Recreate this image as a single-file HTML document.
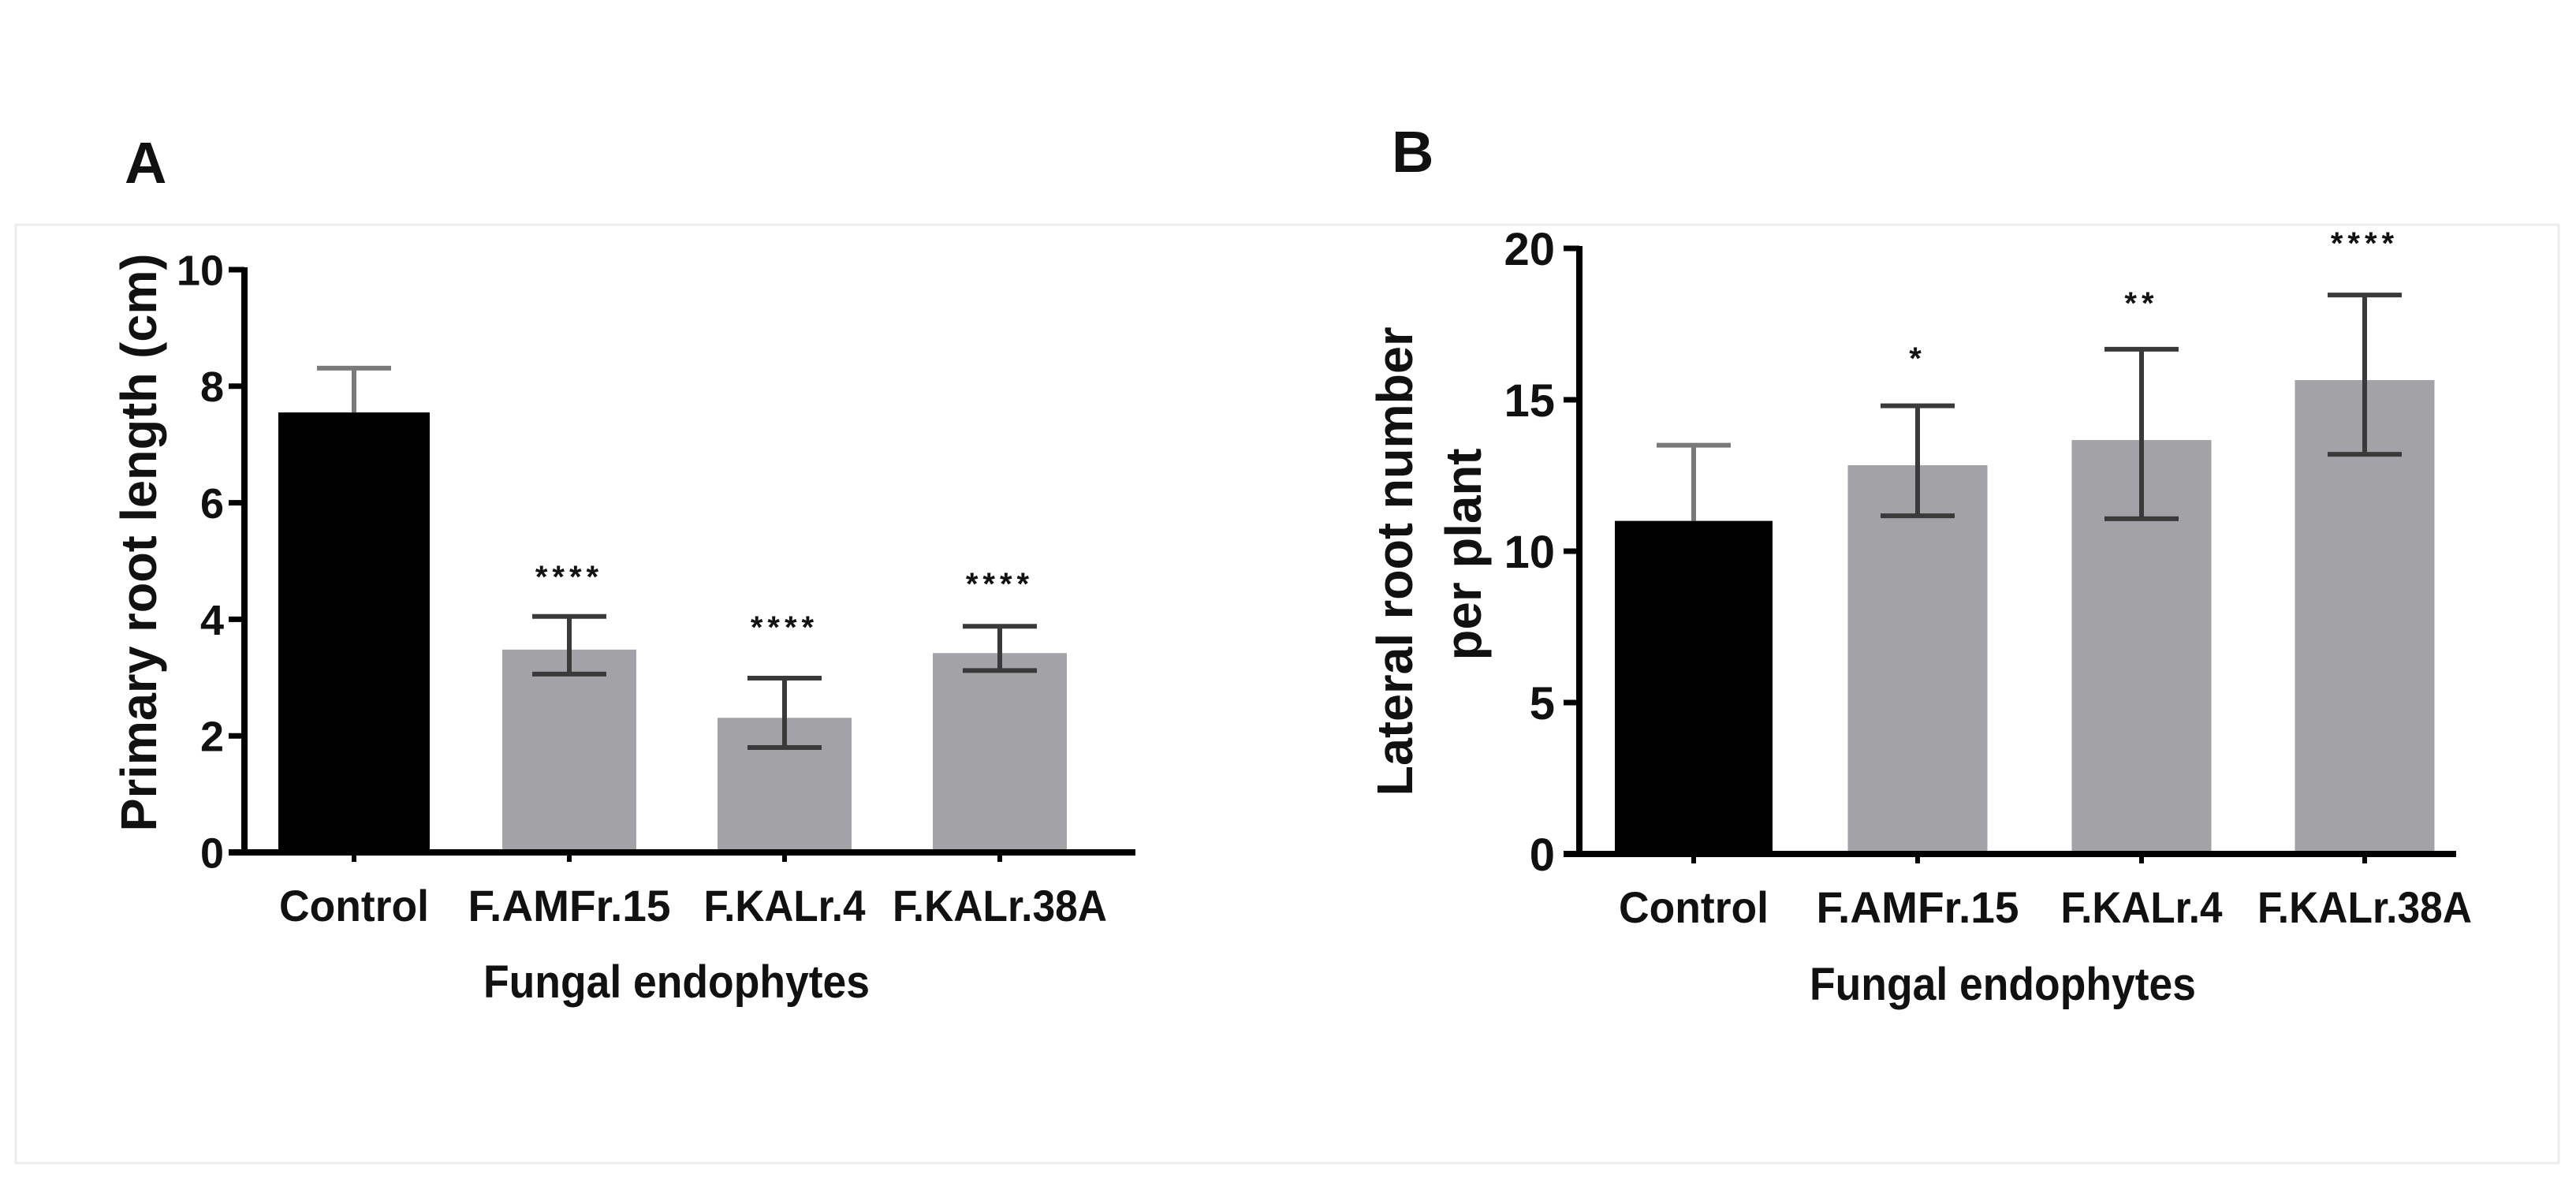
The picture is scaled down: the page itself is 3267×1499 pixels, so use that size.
<!DOCTYPE html>
<html><head><meta charset="utf-8">
<style>
html,body{margin:0;padding:0;background:#fff;}
svg{display:block;}
text{font-family:"Liberation Sans",sans-serif;font-weight:bold;fill:#111;}
</style></head>
<body>
<svg id="fig" width="3267" height="1499" viewBox="0 0 3267 1499" xmlns="http://www.w3.org/2000/svg">
<rect x="0" y="0" width="3267" height="1499" fill="#fff"/>
<rect x="20" y="285" width="3225" height="1190" fill="none" stroke="#ececec" stroke-width="3"/>
<text x="158" y="232" font-size="74">A</text>
<text x="1765" y="218" font-size="74">B</text>
<g id="chartA"></g>
<g id="chartB"></g>
</svg>
<script>
const categories = ["Control","F.AMFr.15","F.KALr.4","F.KALr.38A"];
const valuesA = [7.55, 3.48, 2.31, 3.42];
const errHiA = [8.31, 4.05, 2.99, 3.88];
const errLoA = [7.55, 3.06, 1.80, 3.12];
const starsA = ["", "****", "****", "****"];
const ticksA = [0, 2, 4, 6, 8, 10];
const valuesB = [11.0, 12.84, 13.67, 15.65];
const errHiB = [13.5, 14.8, 16.67, 18.46];
const errLoB = [11.0, 11.17, 11.07, 13.2];
const starsB = ["", "*", "**", "****"];
const ticksB = [0, 5, 10, 15, 20];

const NS = "http://www.w3.org/2000/svg";
function mk(parent, tag, attrs, txt){
  const e = document.createElementNS(NS, tag);
  for (const k in attrs) e.setAttribute(k, attrs[k]);
  if (txt !== undefined) e.textContent = txt;
  parent.appendChild(e);
  return e;
}
function drawChart(g, cfg){
  const y = v => cfg.y0 - (v - 0) / cfg.max * (cfg.y0 - cfg.yTop);
  const x = i => cfg.xc[i];
  cfg.values.forEach((v, i) => {
    const w = i === 0 ? cfg.w0 : cfg.w;
    const r = mk(g, "rect", {x: x(i) - w/2, y: y(v), width: w, height: cfg.y0 - y(v), fill: i === 0 ? "#000" : "#a3a2a7"});
    
    
  });
  cfg.values.forEach((v, i) => {
    const eg = mk(g, "g", {stroke: i === 0 ? "#7a7a7a" : "#3a3a3a", "stroke-width": 6});
    
    
    mk(eg, "line", {x1: x(i), x2: x(i), y1: y(cfg.hi[i]), y2: y(cfg.lo[i])});
    mk(eg, "line", {x1: x(i) - 47, x2: x(i) + 47, y1: y(cfg.hi[i]), y2: y(cfg.hi[i])});
    if (cfg.lo[i] < v) mk(eg, "line", {x1: x(i) - 47, x2: x(i) + 47, y1: y(cfg.lo[i]), y2: y(cfg.lo[i])});
  });
  cfg.stars.forEach((s, i) => {
    if (!s) return;
    const t = mk(g, "text", {x: x(i), y: cfg.starY[i], "font-size": 40, "text-anchor": "middle", "letter-spacing": 6, fill: "#333"}, s);
    
    
  });
  const ya = mk(g, "line", {x1: cfg.ax, x2: cfg.ax, y1: cfg.yTop - 3, y2: cfg.y0 + 3, stroke: "#000", "stroke-width": 8});
  
  
  const xa = mk(g, "line", {x1: cfg.ax - 20, x2: cfg.xEnd, y1: cfg.y0, y2: cfg.y0, stroke: "#000", "stroke-width": 8});
  
  
  cfg.ticks.forEach(t => {
    mk(g, "line", {x1: cfg.ax - 20, x2: cfg.ax, y1: y(t), y2: y(t), stroke: "#000", "stroke-width": 7});
    const lb = mk(g, "text", {x: cfg.tickX, y: y(t) + cfg.tickFs * 0.36, "font-size": cfg.tickFs, "text-anchor": "end"}, String(t));
    
    
  });
  categories.forEach((c, i) => {
    mk(g, "line", {x1: x(i), x2: x(i), y1: cfg.y0, y2: cfg.y0 + 12, stroke: "#000", "stroke-width": 6});
    const lb = mk(g, "text", {x: x(i), y: cfg.labY, "font-size": 56, "text-anchor": "middle", textLength: cfg.labW[i], lengthAdjust: "spacingAndGlyphs"}, c);
    
    
  });
  const xt = mk(g, "text", {x: cfg.titleX, y: cfg.titleY, "font-size": 58, "text-anchor": "middle", textLength: 490, lengthAdjust: "spacingAndGlyphs"}, "Fungal endophytes");
  
  
}
const gA = document.getElementById("chartA");
drawChart(gA, {y0: 1081, yTop: 342, max: 10, ax: 310, xEnd: 1440, xc: [449, 722, 995, 1268], w0: 192, w: 170,
  values: valuesA, hi: errHiA, lo: errLoA, stars: starsA, starY: [0, 745, 809, 754], ticks: ticksA, tickX: 284, tickFs: 54,
  labY: 1168, labW: [190, 257, 205, 272], titleX: 858, titleY: 1265});
const ytA = mk(gA, "text", {transform: "translate(198,688) rotate(-90)", "font-size": 64, "text-anchor": "middle", textLength: 733, lengthAdjust: "spacingAndGlyphs"}, "Primary root length (cm)");



const gB = document.getElementById("chartB");
drawChart(gB, {y0: 1083, yTop: 315, max: 20, ax: 2003, xEnd: 3115, xc: [2148, 2432, 2716, 2999], w0: 200, w: 177,
  values: valuesB, hi: errHiB, lo: errLoB, stars: starsB, starY: [0, 468, 398, 322], ticks: ticksB, tickX: 1972, tickFs: 58,
  labY: 1170, labW: [190, 257, 205, 272], titleX: 2540, titleY: 1268});
const ytB1 = mk(gB, "text", {transform: "translate(1791,712) rotate(-90)", "font-size": 64, "text-anchor": "middle", textLength: 595, lengthAdjust: "spacingAndGlyphs"}, "Lateral root number");


const ytB2 = mk(gB, "text", {transform: "translate(1878,703) rotate(-90)", "font-size": 64, "text-anchor": "middle", textLength: 269, lengthAdjust: "spacingAndGlyphs"}, "per plant");


</script>
</body></html>
